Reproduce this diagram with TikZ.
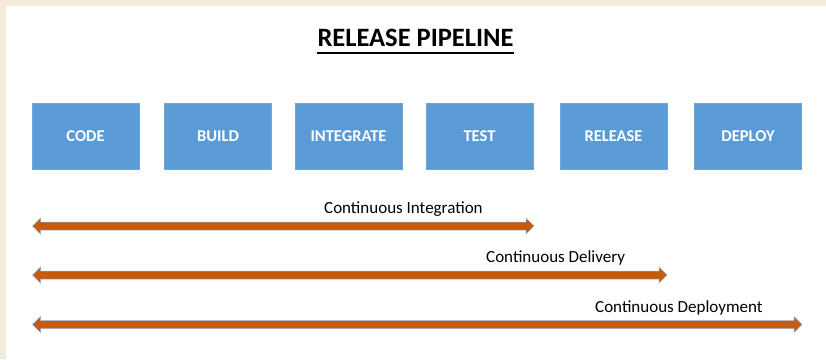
\documentclass[tikz,border=0pt]{standalone}
\usepackage{fontspec}
\setmainfont{Carlito}
\usetikzlibrary{calc}
\definecolor{pagebeige}{HTML}{F2EADB}
\definecolor{boxblue}{HTML}{5B9BD5}
\definecolor{boxedge}{HTML}{6FA6DA}
\definecolor{arroworange}{HTML}{C55A11}
\definecolor{arrowedge}{HTML}{9DB3D6}
\newcommand\pipearrow[2]{%
  \draw[pipearrowstyle]
    (#1) -- ($(#1)+(8,-8)$) -- ($(#1)+(8,-4)$) -- ($(#2)+(-8,-4)$) -- ($(#2)+(-8,-8)$)
    -- (#2) -- ($(#2)+(-8,8)$) -- ($(#2)+(-8,4)$) -- ($(#1)+(8,4)$) -- ($(#1)+(8,8)$) -- cycle;}
\begin{document}
\begin{tikzpicture}[x=1pt,y=-1pt,
  stagebox/.style={fill=boxblue, draw=boxedge, line width=0.6pt, minimum width=107pt,
    minimum height=66pt, inner sep=0pt, text=white,
    font=\fontsize{16.5}{20}\selectfont\bfseries},
  phaselabel/.style={anchor=base west, inner sep=0pt, font=\fontsize{17}{20}\selectfont},
  pipearrowstyle/.style={fill=arroworange, draw=arrowedge, line width=0.5pt, line join=miter},
]
\useasboundingbox (0,0) rectangle (826,359);
\fill[pagebeige] (0,0) rectangle (826,359);
\fill[white] (6,6) rectangle (826,359);

\node[anchor=base, inner sep=0pt, font=\fontsize{26.5}{30}\selectfont\bfseries] (title) at (415.5,46.5) {RELEASE PIPELINE};
\draw[line width=2.6pt] ($(title.base west)+(0,6.5)$) -- ($(title.base east)+(0,6.5)$);

\node[stagebox] (code) at (85.5,136) {CODE};
\node[stagebox] (build) at (218,136) {BUILD};
\node[stagebox] (integrate) at (348.5,136) {INTEGRATE};
\node[stagebox] (test) at (479.5,136) {TEST};
\node[stagebox] (release) at (613.5,136) {RELEASE};
\node[stagebox] (deploy) at (748,136) {DEPLOY};

\coordinate (ciL) at (32.5,226);
\coordinate (ciR) at (534,226);
\coordinate (cdL) at (32.5,275);
\coordinate (cdR) at (667,275);
\coordinate (cpL) at (32.5,324.5);
\coordinate (cpR) at (802,324.5);

\pipearrow{ciL}{ciR}
\pipearrow{cdL}{cdR}
\pipearrow{cpL}{cpR}

\node[phaselabel] (cilabel) at (324,213) {Continuous Integration};
\node[phaselabel] (cdlabel) at (486,262) {Continuous Delivery};
\node[phaselabel] (cplabel) at (595,312) {Continuous Deployment};
\end{tikzpicture}
\end{document}
